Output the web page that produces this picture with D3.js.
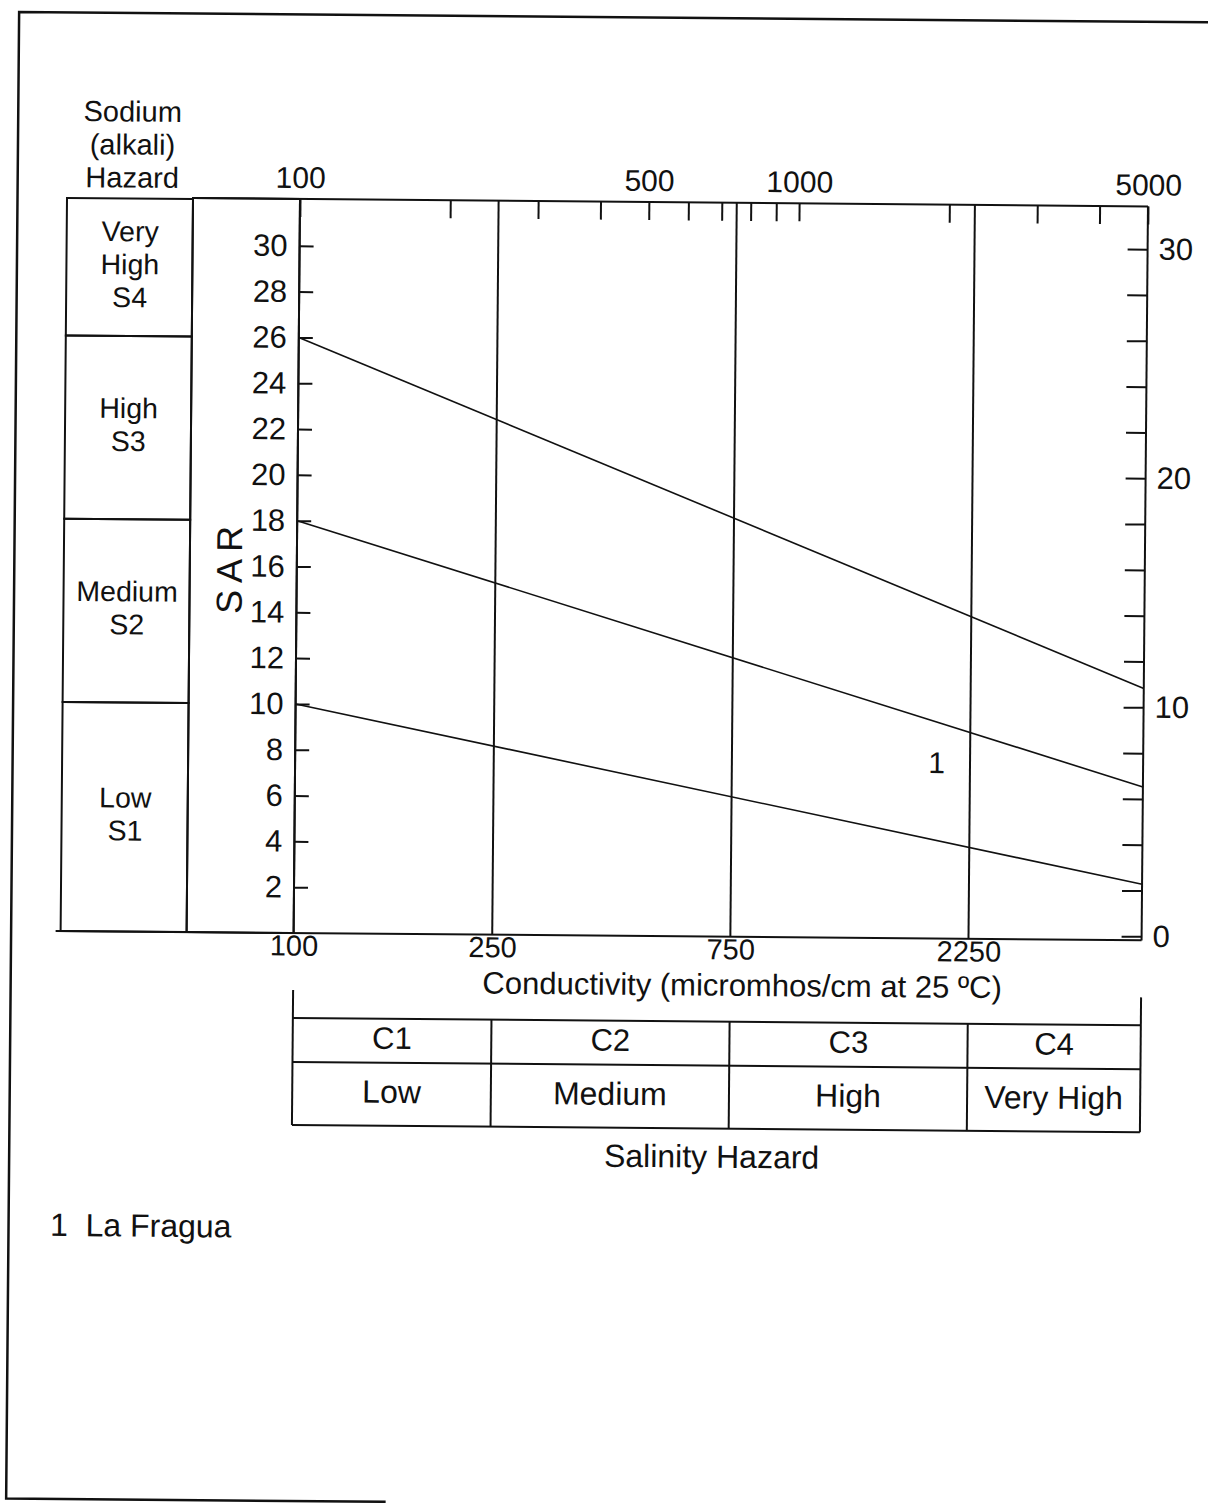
<!DOCTYPE html>
<html>
<head>
<meta charset="utf-8">
<script src="https://cdn.jsdelivr.net/npm/d3@7"></script>
<style>
  body { margin: 0; background: #fff; }
  text { font-family: "Liberation Sans", Arial, sans-serif; fill: #111; }
  .axis path { display: none; }
  .axis line { stroke: #111; stroke-width: 2; }
</style>
</head>
<body>
<div id="chart"></div>
<script>
// conductivity (top axis) ticks, only some get labels
const topTicks = [100, 200, 300, 400, 500, 600, 700, 800, 900, 1000, 2000, 3000, 4000, 5000]
const topLabels = [100, 500, 1000, 5000]
// class boundaries on the bottom
const ecBreaks = [100, 250, 750, 2250]
const sarTicks = [2, 4, 6, 8, 10, 12, 14, 16, 18, 20, 22, 24, 26, 28, 30]
const rightTicks = [0, 2, 4, 6, 8, 10, 12, 14, 16, 18, 20, 22, 24, 26, 28, 30]
const rightLabels = [0, 10, 20, 30]

// sodium hazard boundary lines, end points (EC, SAR)
const s1s2 = [[100, 10], [5000, 2.45]]
const s2s3 = [[100, 18], [5000, 6.7]]
const s3s4 = [[100, 26], [5000, 11]]

// sodium classes (lower SAR, upper SAR, label lines)
const sodiumClasses = [
  { lo: 26, hi: 32, lines: ['Very', 'High', 'S4'] },
  { lo: 18, hi: 26, lines: ['High', 'S3'] },
  { lo: 10, hi: 18, lines: ['Medium', 'S2'] },
  { lo: 0, hi: 10, lines: ['Low', 'S1'] }
]
const salinityCodes = ['C1', 'C2', 'C3', 'C4']
const salinityNames = ['Low', 'Medium', 'High', 'Very High']

// samples
const samples = [{ id: '1', name: 'La Fragua', ec: 1930, sar: 7.7 }]

const W = 1208, H = 1503

// the scan sits a little crooked, turn the whole drawing half a degree
const root = d3.select('#chart').append('svg')
  .attr('width', W)
  .attr('height', H)
const svg = root.append('g')
  .attr('transform', 'rotate(0.5,300,200)')

const x = d3.scaleLog().domain([100, 5000]).range([300, 1148])
const y = d3.scaleLinear().domain([0, 32]).range([933, 200])

// page frame
svg.append('path')
  .attr('d', 'M397,1501 L17.5,1501 L17.5,14.4 L1230,14.4')
  .attr('fill', 'none').attr('stroke', '#111').attr('stroke-width', 2.5)

// sodium hazard header
svg.append('text')
  .attr('text-anchor', 'middle')
  .attr('font-size', 29)
  .selectAll('tspan')
  .data(['Sodium', '(alkali)', 'Hazard'])
  .join('tspan')
  .attr('x', 132)
  .attr('y', (d, i) => 123 + i * 33)
  .text(d => d)

// sodium hazard boxes
const boxL = 67, boxR = 193
sodiumClasses.forEach(c => {
  const top = Math.max(y(c.hi), 199)
  svg.append('rect')
    .attr('x', boxL).attr('y', top)
    .attr('width', boxR - boxL).attr('height', y(c.lo) - top)
    .attr('fill', 'none').attr('stroke', '#111').attr('stroke-width', 2)
  const mid = (top + y(c.lo)) / 2
  const n = c.lines.length
  svg.append('text')
    .attr('text-anchor', 'middle')
    .attr('font-size', 28.5)
    .selectAll('tspan')
    .data(c.lines)
    .join('tspan')
    .attr('x', 130.5)
    .attr('y', (d, i) => mid + 7 + (i - (n - 1) / 2) * 33)
    .text(d => d)
})

// SAR box
svg.append('rect')
  .attr('x', boxR).attr('y', 199)
  .attr('width', x(100) - boxR).attr('height', y(0) - 199)
  .attr('fill', 'none').attr('stroke', '#111').attr('stroke-width', 2)

svg.append('text')
  .attr('transform', 'translate(245,567) rotate(-90)')
  .attr('text-anchor', 'middle')
  .attr('font-size', 36)
  .attr('letter-spacing', 7)
  .text('SAR')

// plot frame
svg.append('line')
  .attr('x1', boxR).attr('x2', x(5000))
  .attr('y1', 199).attr('y2', 199)
  .attr('stroke', '#111').attr('stroke-width', 2)
svg.append('line')
  .attr('x1', 62).attr('x2', x(5000))
  .attr('y1', y(0)).attr('y2', y(0))
  .attr('stroke', '#111').attr('stroke-width', 2)

// vertical class lines
svg.selectAll('.vline')
  .data(ecBreaks.concat([5000]))
  .join('line')
  .attr('class', 'vline')
  .attr('x1', d => x(d)).attr('x2', d => x(d))
  .attr('y1', 199).attr('y2', y(0))
  .attr('stroke', '#111').attr('stroke-width', 2)

// top log axis
const topAxis = d3.axisTop(x)
  .tickValues(topTicks)
  .tickSizeInner(-18)
  .tickSizeOuter(0)
  .tickPadding(11)
  .tickFormat(d => topLabels.includes(d) ? d : '')
svg.append('g')
  .attr('class', 'axis top-axis')
  .attr('transform', 'translate(0,199)')
  .call(topAxis)
  .selectAll('text')
  .attr('font-size', 30)

// left SAR axis
const leftAxis = d3.axisLeft(y)
  .tickValues(sarTicks)
  .tickSizeInner(-14)
  .tickSizeOuter(0)
  .tickPadding(12)
svg.append('g')
  .attr('class', 'axis y-axis')
  .attr('transform', 'translate(' + x(100) + ',0)')
  .call(leftAxis)
  .selectAll('text')
  .attr('font-size', 31)

// right SAR axis
const rightAxis = d3.axisRight(y)
  .tickValues(rightTicks)
  .tickSizeInner(-20)
  .tickSizeOuter(0)
  .tickPadding(11)
  .tickFormat(d => rightLabels.includes(d) ? d : '')
svg.append('g')
  .attr('class', 'axis y-axis-right')
  .attr('transform', 'translate(' + x(5000) + ',-4)')
  .call(rightAxis)
  .selectAll('text')
  .attr('font-size', 31)

// bottom axis, class limits only
const bottomAxis = d3.axisBottom(x)
  .tickValues(ecBreaks)
  .tickSize(0)
  .tickPadding(2)
  .tickFormat(d => d)
svg.append('g')
  .attr('class', 'axis x-axis')
  .attr('transform', 'translate(0,' + y(0) + ')')
  .call(bottomAxis)
  .selectAll('text')
  .attr('font-size', 29)

svg.append('text')
  .attr('x', 749).attr('y', 992)
  .attr('text-anchor', 'middle')
  .attr('font-size', 31)
  .text('Conductivity (micromhos/cm at 25 ºC)')

// hazard boundary lines
const line = d3.line()
  .x(d => x(d[0]))
  .y(d => y(d[1]))
svg.selectAll('.hazard')
  .data([s1s2, s2s3, s3s4])
  .join('path')
  .attr('class', 'hazard')
  .attr('d', line)
  .attr('fill', 'none')
  .attr('stroke', '#111')
  .attr('stroke-width', 1.6)

// samples as number labels
svg.selectAll('.sample')
  .data(samples)
  .join('text')
  .attr('class', 'sample')
  .attr('x', d => x(d.ec))
  .attr('y', d => y(d.sar) + 11)
  .attr('text-anchor', 'middle')
  .attr('font-size', 30)
  .text(d => d.id)

// salinity hazard table
const tTop = 1018, tMid = 1062, tBot = 1125
svg.selectAll('.tedge')
  .data([100, 5000])
  .join('line')
  .attr('class', 'tedge')
  .attr('x1', d => x(d)).attr('x2', d => x(d))
  .attr('y1', 990).attr('y2', tBot)
  .attr('stroke', '#111').attr('stroke-width', 2)
svg.selectAll('.hrow')
  .data([tTop, tMid, tBot])
  .join('line')
  .attr('class', 'hrow')
  .attr('x1', x(100)).attr('x2', x(5000))
  .attr('y1', d => d).attr('y2', d => d)
  .attr('stroke', '#111').attr('stroke-width', 2)
svg.selectAll('.vcol')
  .data(ecBreaks.slice(1))
  .join('line')
  .attr('class', 'vcol')
  .attr('x1', d => x(d)).attr('x2', d => x(d))
  .attr('y1', tTop).attr('y2', tBot)
  .attr('stroke', '#111').attr('stroke-width', 2)

const colEdges = ecBreaks.concat([5000])
const colMid = i => (x(colEdges[i]) + x(colEdges[i + 1])) / 2
svg.selectAll('.code')
  .data(salinityCodes)
  .join('text')
  .attr('class', 'code')
  .attr('x', (d, i) => colMid(i))
  .attr('y', 1048)
  .attr('text-anchor', 'middle')
  .attr('font-size', 31)
  .text(d => d)
svg.selectAll('.cname')
  .data(salinityNames)
  .join('text')
  .attr('class', 'cname')
  .attr('x', (d, i) => colMid(i))
  .attr('y', 1102)
  .attr('text-anchor', 'middle')
  .attr('font-size', 32)
  .text(d => d)

svg.append('text')
  .attr('x', 720).attr('y', 1164)
  .attr('text-anchor', 'middle')
  .attr('font-size', 32)
  .text('Salinity Hazard')

// sample key
svg.selectAll('.key')
  .data(samples)
  .join('text')
  .attr('class', 'key')
  .attr('x', 59)
  .attr('y', (d, i) => 1238 + i * 36)
  .attr('font-size', 32)
  .attr('xml:space', 'preserve')
  .text(d => d.id + '  ' + d.name)
</script>
</body>
</html>
